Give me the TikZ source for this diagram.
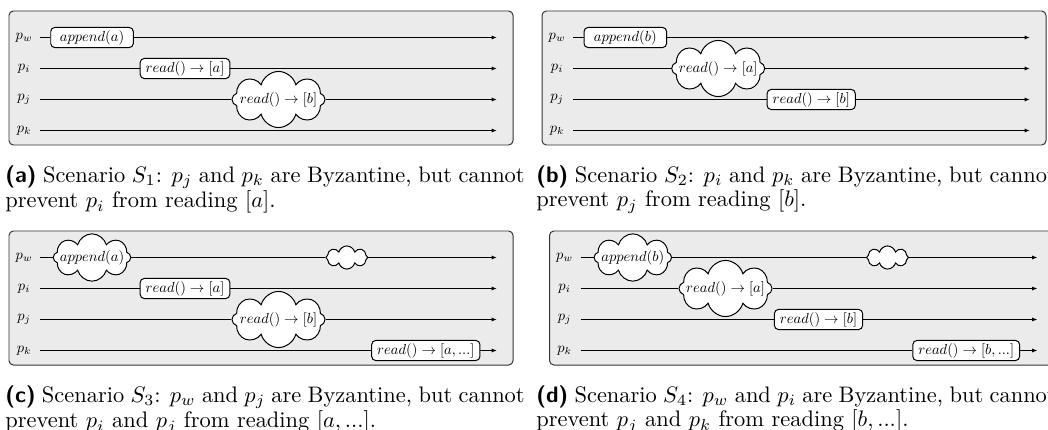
\RequirePackage{fix-cm}
\documentclass[tikz,border=0pt]{standalone}
\usepackage{graphicx}
\usetikzlibrary{shapes.symbols,arrows.meta}
\lineskiplimit=-10pt
\newcommand\dt[1]{\scalebox{0.66}{$#1$}}
\newcommand\ctext[1]{\makebox[0pt]{\smash{\raisebox{-1.65pt}{\dt{#1}}}}}
\tikzset{
  panelbox/.style={draw=black!80, fill=black!8, rounded corners=2pt, line width=0.45pt},
  plabel/.style={anchor=east, minimum width=14.1pt, inner sep=0pt},
  tline/.style={line width=0.5pt},
  tarrow/.style={line width=0.5pt, -{Latex[length=2.4pt,width=1.8pt]}},
  opbox/.style={draw, fill=white, rounded corners=1.8pt, line width=0.45pt, inner xsep=2.5pt, inner ysep=0pt,
    minimum height=9.1pt, minimum width=37.5pt},
  cloudbase/.style={cloud, cloud puffs=8, cloud ignores aspect, draw, fill=white, inner sep=0pt,
    line width=0.45pt},
  readcloud/.style={cloudbase, minimum width=42.3pt, minimum height=25.5pt},
  appcloud/.style={cloudbase, minimum width=35.2pt, minimum height=21.5pt},
  emptycloud/.style={cloudbase, minimum width=19pt, minimum height=10.5pt},
  capt/.style={anchor=north west, inner sep=0pt, text width=236pt, align=justify,
    font=\fontsize{10.2}{9.8}\selectfont}
}
\newcommand\panelframe[1]{%
  \draw[panelbox] (9,11) rectangle (513,145);
  \node[plabel] (#1w) at (40,37.5) {\dt{p_w}};
  \node[plabel] (#1i) at (40,68.5) {\dt{p_i}};
  \node[plabel] (#1j) at (40,99.5) {\dt{p_j}};
  \node[plabel] (#1k) at (40,130.5) {\dt{p_k}};
  \coordinate (#1we) at (497,37.5);
  \coordinate (#1ie) at (497,68.5);
  \coordinate (#1je) at (497,99.5);
  \coordinate (#1ke) at (497,130.5);
}
\begin{document}
\begin{tikzpicture}[x=0.4545pt, y=-0.4545pt]
\useasboundingbox (0,0) rectangle (1048,429);
\clip (0,0) rectangle (1048,429);

% ---------- (a) ----------
\begin{scope}
  \panelframe{a}
  \node[opbox] (aapp) at (92,37.5) {\dt{append(a)}};
  \node[opbox] (ardA) at (185,68.5) {\dt{read() \rightarrow [a]}};
  \node[readcloud] (ardB) at (278.5,99.5) {\ctext{read() \rightarrow [b]}};
  \draw[tline] (aw) -- (aapp); \draw[tarrow] (aapp) -- (awe);
  \draw[tline] (ai) -- (ardA); \draw[tarrow] (ardA) -- (aie);
  \draw[tline] (aj) -- (ardB); \draw[tarrow] (ardB) -- (aje);
  \draw[tarrow] (ak) -- (ake);
\end{scope}
\node[capt] (capa) at (5,165) {\textsf{\textbf{(a)}} Scenario $S_1$: $p_j$ and $p_k$ are Byzantine, but cannot\linebreak prevent $p_i$ from reading $[a]$.};

% ---------- (b) ----------
\begin{scope}[shift={(533,0)}]
  \panelframe{b}
  \node[opbox] (bapp) at (92.3,37.5) {\dt{append(b)}};
  \node[readcloud] (brdA) at (185.2,68.5) {\ctext{read() \rightarrow [a]}};
  \node[opbox] (brdB) at (278.2,99.5) {\dt{read() \rightarrow [b]}};
  \draw[tline] (bw) -- (bapp); \draw[tarrow] (bapp) -- (bwe);
  \draw[tline] (bi) -- (brdA); \draw[tarrow] (brdA) -- (bie);
  \draw[tline] (bj) -- (brdB); \draw[tarrow] (brdB) -- (bje);
  \draw[tarrow] (bk) -- (bke);
\end{scope}
\node[capt] (capb) at (536,165) {\textsf{\textbf{(b)}} Scenario $S_2$: $p_i$ and $p_k$ are Byzantine, but cannot\linebreak prevent $p_j$ from reading $[b]$.};

% ---------- (c) ----------
\begin{scope}[shift={(0,220)}]
  \panelframe{c}
  \node[appcloud] (capp) at (92,37.5) {\ctext{append(a)}};
  \node[emptycloud] (ccl) at (346.8,37.5) {};
  \node[opbox] (crdA) at (185,68.5) {\dt{read() \rightarrow [a]}};
  \node[readcloud] (crdB) at (278.5,99.5) {\ctext{read() \rightarrow [b]}};
  \node[opbox] (crdC) at (425.8,130.5) {\dt{read() \rightarrow [a, ...]}};
  \draw[tline] (cw) -- (capp); \draw[tline] (capp) -- (ccl); \draw[tarrow] (ccl) -- (cwe);
  \draw[tline] (ci) -- (crdA); \draw[tarrow] (crdA) -- (cie);
  \draw[tline] (cj) -- (crdB); \draw[tarrow] (crdB) -- (cje);
  \draw[tline] (ck) -- (crdC); \draw[tarrow] (crdC) -- (cke);
\end{scope}
\node[capt] (capc) at (5,385) {\textsf{\textbf{(c)}} Scenario $S_3$: $p_w$ and $p_j$ are Byzantine, but cannot\linebreak prevent $p_i$ and $p_j$ from reading $[a, ...]$.};

% ---------- (d) ----------
\begin{scope}[shift={(540.5,220)}]
  \panelframe{d}
  \node[appcloud] (dapp) at (92.3,37.5) {\ctext{append(b)}};
  \node[emptycloud] (dcl) at (347,37.5) {};
  \node[readcloud] (drdA) at (185,68.5) {\ctext{read() \rightarrow [a]}};
  \node[opbox] (drdB) at (278,99.5) {\dt{read() \rightarrow [b]}};
  \node[opbox] (drdC) at (425.7,130.5) {\dt{read() \rightarrow [b, ...]}};
  \draw[tline] (dw) -- (dapp); \draw[tline] (dapp) -- (dcl); \draw[tarrow] (dcl) -- (dwe);
  \draw[tline] (di) -- (drdA); \draw[tarrow] (drdA) -- (die);
  \draw[tline] (dj) -- (drdB); \draw[tarrow] (drdB) -- (dje);
  \draw[tline] (dk) -- (drdC); \draw[tarrow] (drdC) -- (dke);
\end{scope}
\node[capt] (capd) at (536,385) {\textsf{\textbf{(d)}} Scenario $S_4$: $p_w$ and $p_i$ are Byzantine, but cannot\linebreak prevent $p_j$ and $p_k$ from reading $[b, ...]$.};
\end{tikzpicture}
\end{document}
